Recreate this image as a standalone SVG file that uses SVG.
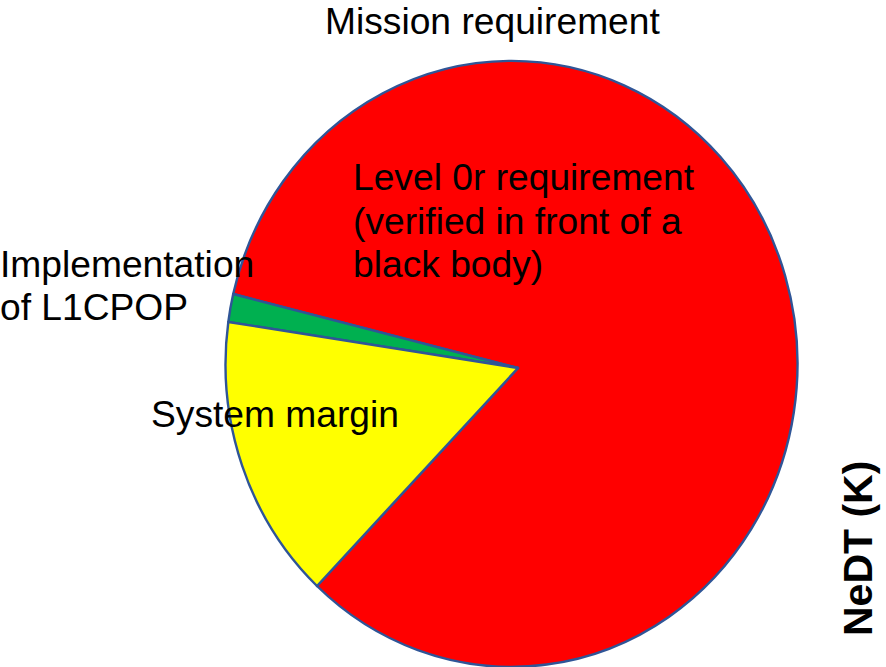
<svg xmlns="http://www.w3.org/2000/svg" width="886" height="667" viewBox="0 0 886 667">
<style>
.slice{stroke:#2F5597;stroke-width:2.4;stroke-linejoin:round}
.lbl{font-family:"Liberation Sans",Arial,sans-serif;font-size:37.2px;fill:#000}
.axis{font-family:"Liberation Sans",Arial,sans-serif;font-size:41px;font-weight:bold;fill:#000}
</style>
<rect width="886" height="667" fill="#fff"/>
<g id="pie">
<path id="slice-level0r" class="slice" fill="#FF0000" d="M518,368 L233.2,294 A286,303 0 1 1 317,586 Z"/>
<path id="slice-l1cpop" class="slice" fill="#00B050" d="M518,368 L228.3,322 A286,303 0 0 1 233.2,294 Z"/>
<path id="slice-margin" class="slice" fill="#FFFF00" d="M518,368 L317,586 A286,303 0 0 1 228.3,322 Z"/>
</g>
<g id="labels">
<text class="lbl" x="325" y="34">Mission requirement</text>
<text class="lbl" x="353" y="190">Level 0r requirement</text>
<text class="lbl" x="353" y="233.5">(verified in front of a</text>
<text class="lbl" x="353" y="277">black body)</text>
<text class="lbl" x="0" y="277">Implementation</text>
<text class="lbl" x="0" y="320">of L1CPOP</text>
<text class="lbl" x="151" y="427">System margin</text>
<text class="axis" transform="translate(872,636) rotate(-90)">NeDT (K)</text>
</g>
</svg>
